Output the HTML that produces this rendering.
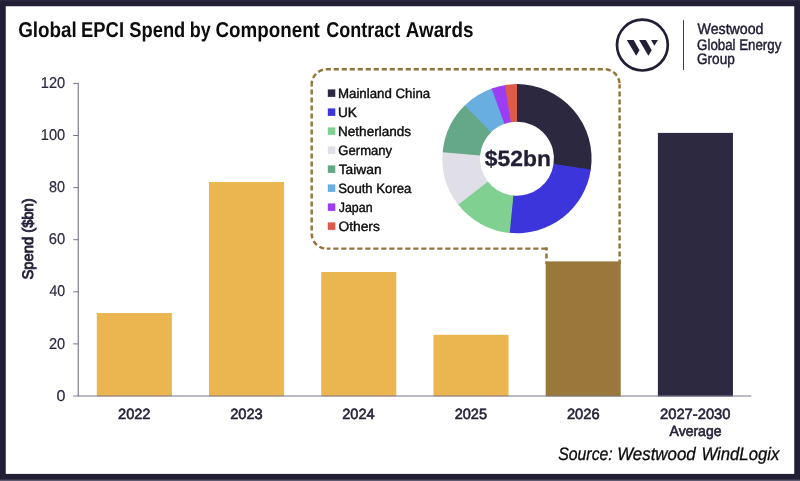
<!DOCTYPE html>
<html lang="en"><head><meta charset="utf-8"><title>Global EPCI Spend by Component Contract Awards</title>
<style>html,body{margin:0;padding:0;background:#fff}body{width:800px;height:481px;overflow:hidden}svg{display:block}text{font-family:"Liberation Sans",sans-serif;white-space:pre;text-rendering:geometricPrecision}</style></head><body>
<svg width="800" height="481" viewBox="0 0 800 481">
<rect x="0" y="0" width="800" height="481" fill="#221e36"/>
<rect x="0" y="0" width="800" height="0.9" fill="#2e2a45"/>
<rect x="0" y="479.6" width="800" height="1.4" fill="#5c5971"/>
<rect x="5.75" y="6.25" width="788.5" height="467.65" fill="#fff"/>
<g fill="none" stroke="#94743a" stroke-width="2.45" stroke-dasharray="5.1 2.9">
<path d="M311.7 84.3A15 15 0 0 1 326.7 69.3H604.6A15 15 0 0 1 619.6 84.3" stroke-dashoffset="1.54"/>
<path d="M619.6 84.3V264" stroke-dashoffset="0.8"/>
<path d="M311.7 84.3V233.6A15 15 0 0 0 326.7 248.6" stroke-dashoffset="2.9"/>
<path d="M326.7 248.6H546.5" stroke-dashoffset="1.4"/><path d="M545 248.6H547.72" stroke-dasharray="none"/><path d="M546.5 248.6V264" stroke-dashoffset="3.1"/>
</g>
<rect x="96.80" y="313.05" width="75.05" height="83.35" fill="#ebb550"/>
<rect x="209.02" y="182.05" width="75.05" height="214.35" fill="#ebb550"/>
<rect x="321.24" y="272.05" width="75.05" height="124.35" fill="#ebb550"/>
<rect x="433.46" y="334.80" width="75.05" height="61.60" fill="#ebb550"/>
<rect x="545.68" y="261.40" width="75.05" height="135.00" fill="#9a783c"/>
<rect x="657.90" y="132.90" width="75.05" height="263.50" fill="#2c2940"/>
<g stroke="#78778b" stroke-width="1.15" fill="none">
<path d="M78.25 82.9V396.5"/>
<path d="M73.2 396H751.3"/>
<path d="M73.2 83.4H78.6" stroke-width="1"/>
<path d="M73.2 135.5H78.6" stroke-width="1"/>
<path d="M73.2 187.6H78.6" stroke-width="1"/>
<path d="M73.2 239.7H78.6" stroke-width="1"/>
<path d="M73.2 291.8H78.6" stroke-width="1"/>
<path d="M73.2 343.9H78.6" stroke-width="1"/>
</g>
<path d="M516.09 84.11A74.6 74.6 0 0 1 590.66 170.50L553.53 164.55A37.0 37.0 0 0 0 516.55 121.70Z" fill="#2b2840"/>
<path d="M590.80 169.60A74.6 74.6 0 0 1 508.81 232.85L512.94 195.48A37.0 37.0 0 0 0 553.60 164.11Z" fill="#3d35dc"/>
<path d="M509.72 232.94A74.6 74.6 0 0 1 457.74 204.01L487.61 181.17A37.0 37.0 0 0 0 513.39 195.52Z" fill="#80d092"/>
<path d="M458.29 204.73A74.6 74.6 0 0 1 442.76 151.42L480.18 155.09A37.0 37.0 0 0 0 487.88 181.53Z" fill="#e0dfe7"/>
<path d="M442.67 152.33A74.6 74.6 0 0 1 465.46 104.77L491.44 131.95A37.0 37.0 0 0 0 480.14 155.54Z" fill="#64a888"/>
<path d="M464.81 105.40A74.6 74.6 0 0 1 492.47 88.25L504.83 123.76A37.0 37.0 0 0 0 491.11 132.26Z" fill="#69aee1"/>
<path d="M491.61 88.55A74.6 74.6 0 0 1 505.72 84.96L511.40 122.13A37.0 37.0 0 0 0 504.41 123.91Z" fill="#9c3df6"/>
<path d="M504.82 85.10A74.6 74.6 0 0 1 517.00 84.10L517.00 121.70A37.0 37.0 0 0 0 510.96 122.20Z" fill="#de5a49"/>
<rect x="327.8" y="89.40" width="7.5" height="7.5" fill="#2b2840"/>
<rect x="327.8" y="108.40" width="7.5" height="7.5" fill="#3d35dc"/>
<rect x="327.8" y="127.40" width="7.5" height="7.5" fill="#80d092"/>
<rect x="327.8" y="146.40" width="7.5" height="7.5" fill="#e0dfe7"/>
<rect x="327.8" y="165.40" width="7.5" height="7.5" fill="#64a888"/>
<rect x="327.8" y="184.40" width="7.5" height="7.5" fill="#69aee1"/>
<rect x="327.8" y="203.40" width="7.5" height="7.5" fill="#9c3df6"/>
<rect x="327.8" y="222.40" width="7.5" height="7.5" fill="#de5a49"/>
<circle cx="642.4" cy="45.1" r="25.4" fill="none" stroke="#211e36" stroke-width="2.7"/>
<g fill="#211e36"><path d="M626.8 39.9H633.7L639.5 50.2L636.2 55.7Z"/><path d="M639.1 39.9H645.9L651.7 50.2L648.4 55.7Z"/><path d="M651.1 39.9H657.9L654.4 45.7Z"/></g>
<path d="M683.5 20.2V69.9" stroke="#3a3750" stroke-width="1"/>
<text y="37.40" font-size="21.5" font-weight="bold" fill="#0c0c0c" ><tspan x="18.19" textLength="58.66" lengthAdjust="spacingAndGlyphs">Global</tspan> <tspan x="81.08" textLength="42.95" lengthAdjust="spacingAndGlyphs">EPCI</tspan> <tspan x="129.37" textLength="55.95" lengthAdjust="spacingAndGlyphs">Spend</tspan> <tspan x="189.73" textLength="20.97" lengthAdjust="spacingAndGlyphs">by</tspan> <tspan x="215.50" textLength="104.39" lengthAdjust="spacingAndGlyphs">Component</tspan> <tspan x="326.31" textLength="73.97" lengthAdjust="spacingAndGlyphs">Contract</tspan> <tspan x="405.76" textLength="67.63" lengthAdjust="spacingAndGlyphs">Awards</tspan></text>
<text x="697.56" y="34.45" font-size="15.2" fill="#1f1c33" textLength="65.97" lengthAdjust="spacingAndGlyphs" stroke="#1f1c33" stroke-width="0.45">Westwood</text>
<text x="697.12" y="50.10" font-size="15.2" fill="#1f1c33" textLength="84.19" lengthAdjust="spacingAndGlyphs" stroke="#1f1c33" stroke-width="0.45">Global Energy</text>
<text x="697.01" y="63.90" font-size="15.2" fill="#1f1c33" textLength="37.76" lengthAdjust="spacingAndGlyphs" stroke="#1f1c33" stroke-width="0.45">Group</text>
<text x="40.80" y="88.00" font-size="15.6" fill="#2b2840" textLength="24.39" lengthAdjust="spacingAndGlyphs" stroke="#2b2840" stroke-width="0.2">120</text>
<text x="40.80" y="140.10" font-size="15.6" fill="#2b2840" textLength="24.39" lengthAdjust="spacingAndGlyphs" stroke="#2b2840" stroke-width="0.2">100</text>
<text x="49.10" y="192.20" font-size="15.6" fill="#2b2840" textLength="16.05" lengthAdjust="spacingAndGlyphs" stroke="#2b2840" stroke-width="0.2">80</text>
<text x="48.82" y="244.30" font-size="15.6" fill="#2b2840" textLength="16.40" lengthAdjust="spacingAndGlyphs" stroke="#2b2840" stroke-width="0.2">60</text>
<text x="49.46" y="296.40" font-size="15.6" fill="#2b2840" textLength="15.71" lengthAdjust="spacingAndGlyphs" stroke="#2b2840" stroke-width="0.2">40</text>
<text x="49.02" y="348.50" font-size="15.6" fill="#2b2840" textLength="16.23" lengthAdjust="spacingAndGlyphs" stroke="#2b2840" stroke-width="0.2">20</text>
<text x="56.44" y="400.60" font-size="15.6" fill="#2b2840" textLength="8.96" lengthAdjust="spacingAndGlyphs" stroke="#2b2840" stroke-width="0.2">0</text>
<text x="118.06" y="418.80" font-size="14.8" fill="#252239" textLength="32.40" lengthAdjust="spacingAndGlyphs" stroke="#252239" stroke-width="0.6">2022</text>
<text x="230.18" y="418.80" font-size="14.8" fill="#252239" textLength="32.55" lengthAdjust="spacingAndGlyphs" stroke="#252239" stroke-width="0.6">2023</text>
<text x="342.24" y="418.80" font-size="14.8" fill="#252239" textLength="32.34" lengthAdjust="spacingAndGlyphs" stroke="#252239" stroke-width="0.6">2024</text>
<text x="454.69" y="418.80" font-size="14.8" fill="#252239" textLength="32.33" lengthAdjust="spacingAndGlyphs" stroke="#252239" stroke-width="0.6">2025</text>
<text x="566.96" y="418.80" font-size="14.8" fill="#252239" textLength="32.61" lengthAdjust="spacingAndGlyphs" stroke="#252239" stroke-width="0.6">2026</text>
<text x="660.01" y="418.80" font-size="14.8" fill="#252239" textLength="70.52" lengthAdjust="spacingAndGlyphs" stroke="#252239" stroke-width="0.6">2027-2030</text>
<text x="669.58" y="435.70" font-size="14.8" fill="#252239" textLength="51.91" lengthAdjust="spacingAndGlyphs" stroke="#252239" stroke-width="0.6">Average</text>
<text x="338.00" y="97.55" font-size="13.5" fill="#0c0c0c" textLength="92.15" lengthAdjust="spacingAndGlyphs" stroke="#0c0c0c" stroke-width="0.4">Mainland China</text>
<text x="338.01" y="116.55" font-size="13.5" fill="#0c0c0c" textLength="18.91" lengthAdjust="spacingAndGlyphs" stroke="#0c0c0c" stroke-width="0.4">UK</text>
<text x="338.00" y="135.55" font-size="13.5" fill="#0c0c0c" textLength="73.13" lengthAdjust="spacingAndGlyphs" stroke="#0c0c0c" stroke-width="0.4">Netherlands</text>
<text x="338.36" y="154.55" font-size="13.5" fill="#0c0c0c" textLength="53.78" lengthAdjust="spacingAndGlyphs" stroke="#0c0c0c" stroke-width="0.4">Germany</text>
<text x="338.76" y="173.55" font-size="13.5" fill="#0c0c0c" textLength="42.79" lengthAdjust="spacingAndGlyphs" stroke="#0c0c0c" stroke-width="0.4">Taiwan</text>
<text x="338.30" y="192.55" font-size="13.5" fill="#0c0c0c" textLength="73.12" lengthAdjust="spacingAndGlyphs" stroke="#0c0c0c" stroke-width="0.4">South Korea</text>
<text x="338.76" y="211.55" font-size="13.5" fill="#0c0c0c" textLength="33.81" lengthAdjust="spacingAndGlyphs" stroke="#0c0c0c" stroke-width="0.4">Japan</text>
<text x="338.40" y="230.55" font-size="13.5" fill="#0c0c0c" textLength="41.46" lengthAdjust="spacingAndGlyphs" stroke="#0c0c0c" stroke-width="0.4">Others</text>
<text x="484.86" y="165.65" font-size="22" font-weight="bold" fill="#211e36" textLength="66.00" lengthAdjust="spacingAndGlyphs" stroke="#211e36" stroke-width="0.3">$52bn</text>
<text y="459.65" font-size="18" font-style="italic" fill="#0c0c0c" stroke="#0c0c0c" stroke-width="0.3"><tspan x="558.23" textLength="54.52" lengthAdjust="spacingAndGlyphs">Source:</tspan> <tspan x="617.17" textLength="78.56" lengthAdjust="spacingAndGlyphs">Westwood</tspan> <tspan x="701.39" textLength="77.97" lengthAdjust="spacingAndGlyphs">WindLogix</tspan></text>
<text transform="translate(33.20 279.55) rotate(-90)" font-size="15.2" fill="#26233b" textLength="81.28" lengthAdjust="spacingAndGlyphs" stroke="#26233b" stroke-width="0.85">Spend ($bn)</text>
</svg></body></html>
